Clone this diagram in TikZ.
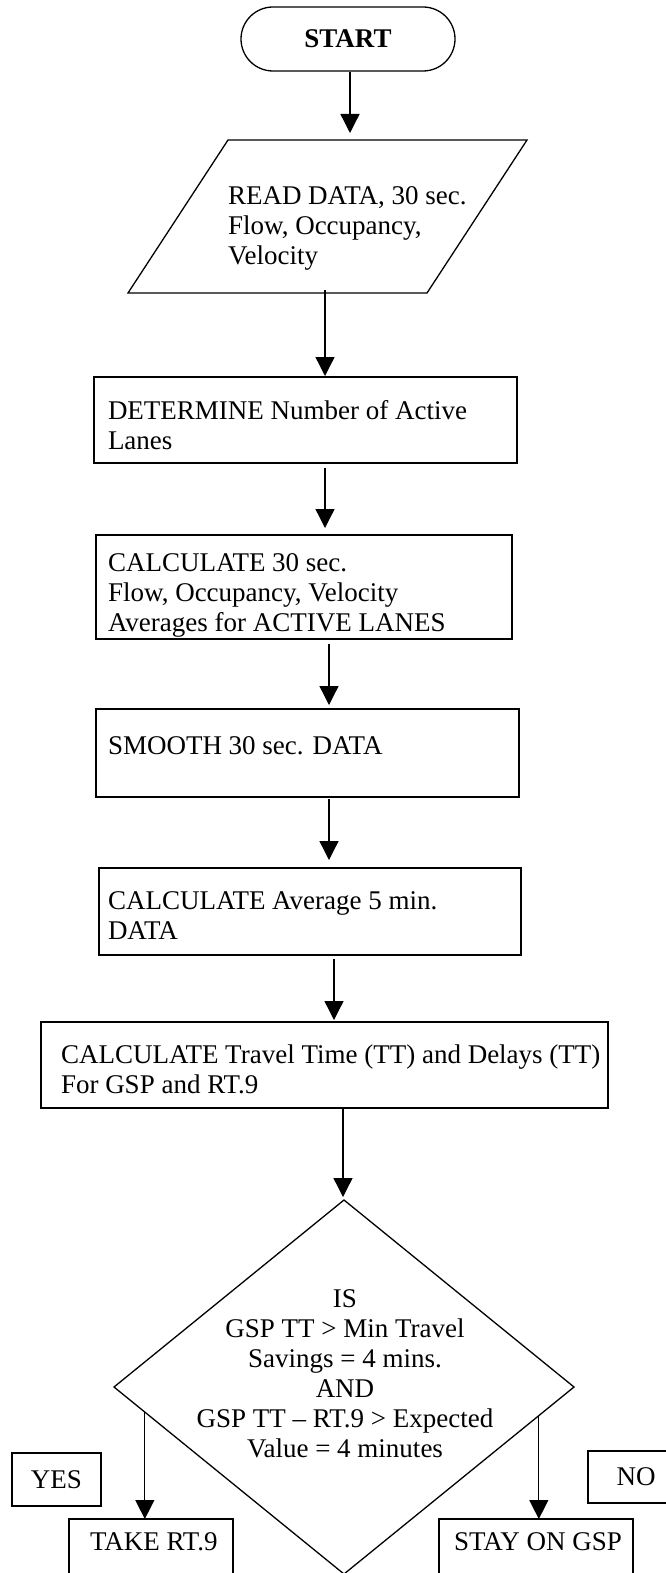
\documentclass[tikz,border=0pt]{standalone}
\usepackage{fontspec}
\setmainfont{Liberation Serif}
\usetikzlibrary{arrows.meta,calc}
\begin{document}
\begin{tikzpicture}[x=1pt,y=-1pt,
  line width=1.3pt,
  txt/.style={font=\fontsize{27}{30}\selectfont, inner sep=0pt, outer sep=0pt},
  boxn/.style={draw, rectangle, inner sep=0pt, outer sep=0pt, font=\fontsize{27}{30}\selectfont},
  hold/.style={rectangle, inner sep=0pt, outer sep=0pt},
  arr/.style={-{Triangle[length=19pt,width=19pt]}},
]
\useasboundingbox (0,0) rectangle (666,1573);

% START
\node[boxn, rounded corners=32pt, minimum width=214pt, minimum height=64pt,
      font=\fontsize{27}{30}\selectfont\bfseries] (start) at (348,39) {START};

% READ DATA (parallelogram)
\node[hold, minimum width=399pt, minimum height=153pt] (read) at (327.5,216.5) {};
\draw (read.south west) -- ([xshift=100pt]read.north west) -- (read.north east)
      -- ([xshift=-100pt]read.south east) -- cycle;
\node[txt, anchor=north west, align=left] (readt) at (228,187)
  {READ DATA, 30 sec.\\Flow, Occupancy,\\Velocity};

% DETERMINE
\node[boxn, minimum width=423pt, minimum height=86pt] (det) at (305.5,420) {};
\node[txt, anchor=north west, align=left] (dett) at (108,400)
  {DETERMINE Number of Active\\Lanes};

% CALCULATE 30 sec
\node[boxn, minimum width=416pt, minimum height=104pt] (calc) at (304,587) {};
\node[txt, anchor=north west, align=left] (calct) at (108,554)
  {CALCULATE 30 sec.\\Flow, Occupancy, Velocity\\Averages for ACTIVE LANES};

% SMOOTH
\node[boxn, minimum width=423pt, minimum height=88pt] (smooth) at (307.5,753) {};
\node[txt, anchor=north west, align=left] (smootht) at (108,737)
  {SMOOTH 30 sec. DATA};

% CALCULATE Average
\node[boxn, minimum width=422pt, minimum height=87pt] (avg) at (310,911.5) {};
\node[txt, anchor=north west, align=left] (avgt) at (108,892)
  {CALCULATE Average 5 min.\\DATA};

% Travel time
\node[boxn, minimum width=567pt, minimum height=86pt] (travel) at (324.5,1065) {};
\node[txt, anchor=north west, align=left] (travelt) at (61,1045)
  {CALCULATE Travel Time (TT) and Delays (TT)\\For GSP and RT.9};

% Decision diamond
\node[hold, minimum width=460pt, minimum height=374pt] (dec) at (344,1387) {};
\draw (dec.north) -- (dec.east) -- (dec.south) -- (dec.west) -- cycle;
\node[txt, anchor=north, align=center] (dect) at (345,1290)
  {IS\\GSP TT > Min Travel\\Savings = 4 mins.\\AND\\GSP TT – RT.9 > Expected\\Value = 4 minutes};

% YES / NO labels
\node[boxn, minimum width=89pt, minimum height=53pt] (yes) at (56.5,1479.5) {YES};
\node[boxn, minimum width=96pt, minimum height=52pt] (no) at (636,1477) {NO};

% outcomes
\node[boxn, minimum width=164pt, minimum height=81pt] (take) at (151,1559.5) {};
\node[txt, anchor=west] (taket) at (90,1542) {TAKE RT.9};
\node[boxn, minimum width=194pt, minimum height=81pt] (stay) at (536,1559.5) {};
\node[txt, anchor=west] (stayt) at (454,1542) {STAY ON GSP};

% connectors
\draw[arr, shorten <=1pt, shorten >=7pt] (350,0 |- start.south) -- (350,0 |- read.north);
\draw[arr, shorten <=-3pt, shorten >=1pt] (325,0 |- read.south) -- (325,0 |- det.north);
\draw[arr, shorten <=5pt, shorten >=7pt] (325,0 |- det.south) -- (325,0 |- calc.north);
\draw[arr, shorten <=5pt, shorten >=4pt] (329,0 |- calc.south) -- (329,0 |- smooth.north);
\draw[arr, shorten <=2pt, shorten >=8pt] (329,0 |- smooth.south) -- (329,0 |- avg.north);
\draw[arr, shorten <=4pt, shorten >=2pt] (334,0 |- avg.south) -- (334,0 |- travel.north);
\draw[arr, shorten >=3pt] (343,0 |- travel.south) -- (343,0 |- dec.north);
\coordinate (yo) at ($(dec.west)!0.134!(dec.south)$);
\coordinate (no0) at ($(dec.east)!0.153!(dec.south)$);
\draw[arr] (yo) -- (yo |- take.north);
\draw[arr] (no0) -- (no0 |- stay.north);
\end{tikzpicture}
\end{document}
